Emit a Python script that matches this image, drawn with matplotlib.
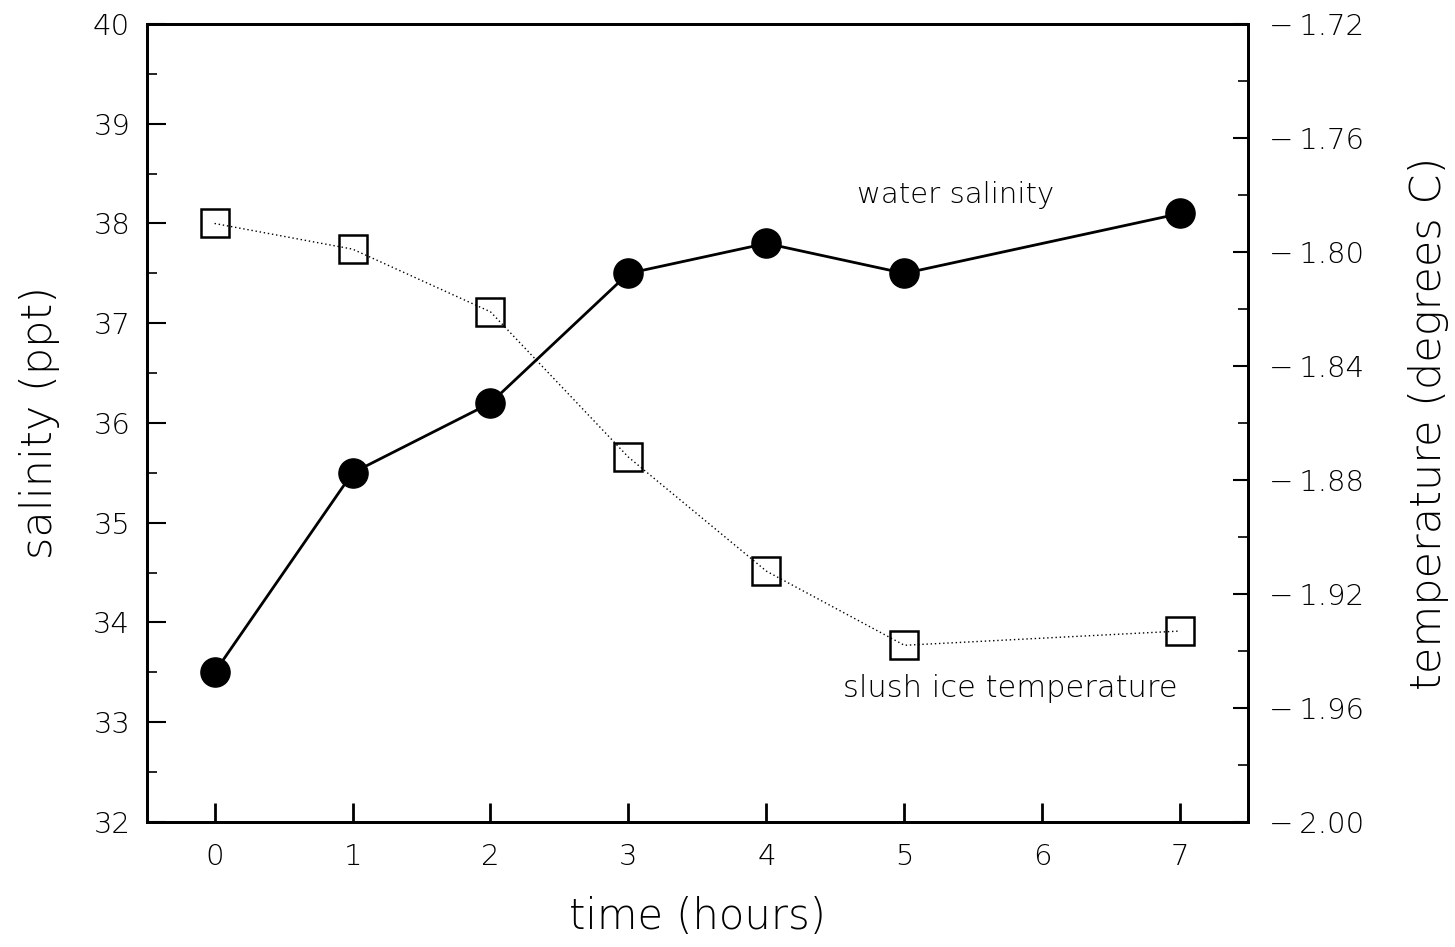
import matplotlib
matplotlib.use("Agg")
import matplotlib.pyplot as plt
from matplotlib.ticker import MultipleLocator, FixedLocator, FuncFormatter

plt.rcParams['font.family'] = ['DejaVu Sans']

time_hours = [0, 1, 2, 3, 4, 5, 7]
salinity_ppt = [33.5, 35.5, 36.2, 37.5, 37.8, 37.5, 38.1]
slush_temp_c = [-1.790, -1.799, -1.821, -1.872, -1.912, -1.938, -1.933]
x_ticks = [0, 1, 2, 3, 4, 5, 6, 7]

fig = plt.figure(figsize=(14.55, 9.47), dpi=100)
ax = fig.add_axes([0.101, 0.132, 0.7567, 0.8427])
ax2 = ax.twinx()

ax.plot(time_hours, salinity_ppt, color='black', lw=2, marker='o', ms=21,
        mfc='black', mec='black', zorder=3)
ax2.plot(time_hours, slush_temp_c, color='black', lw=1, ls=(0, (1, 2)),
         marker='s', ms=19.5, mfc='none', mec='black', mew=1.8, zorder=3)

ax.set_xlim(-0.49, 7.49)
ax.set_ylim(32, 40)
ax2.set_ylim(-2.00, -1.72)

ax.xaxis.set_major_locator(FixedLocator(x_ticks))
ax.yaxis.set_major_locator(MultipleLocator(1))
ax.yaxis.set_minor_locator(MultipleLocator(0.5))
ax2.yaxis.set_major_locator(MultipleLocator(0.04))
ax2.yaxis.set_minor_locator(MultipleLocator(0.02))
ax2.yaxis.set_major_formatter(FuncFormatter(lambda v, p: ('\u2212\u2009%.2f' % abs(v))))

tick_font = 21
ax.tick_params(axis='x', which='major', direction='in', length=14, width=2,
               labelsize=tick_font, pad=15, top=False)
ax.tick_params(axis='y', which='major', direction='in', length=14, width=1.5,
               labelsize=tick_font, pad=12, right=False)
ax.tick_params(axis='y', which='minor', direction='in', length=7, width=1.2, right=False)
ax2.tick_params(axis='y', which='major', direction='in', length=11, width=1.5,
                labelsize=tick_font, pad=15)
ax2.tick_params(axis='y', which='minor', direction='in', length=7, width=1.2)

for a in (ax, ax2):
    for s in a.spines.values():
        s.set_linewidth(2)

for lab in ax.get_xticklabels() + ax.get_yticklabels() + ax2.get_yticklabels():
    lab.set_fontweight('light')

ax.set_xlabel('time (hours)', fontsize=30, fontweight='light', labelpad=18)
ax.set_ylabel('salinity (ppt)', fontsize=31, fontweight='light', labelpad=24)
ax2.set_ylabel('temperature (degrees C)', fontsize=31, fontweight='light', labelpad=32)

ax.text(5.37, 38.29, 'water salinity', fontsize=21, fontweight='light',
        ha='center', va='center')
ax.text(5.77, 33.34, 'slush ice temperature', fontsize=22, fontweight='light',
        ha='center', va='center')

fig.savefig('out.png', dpi=100)
